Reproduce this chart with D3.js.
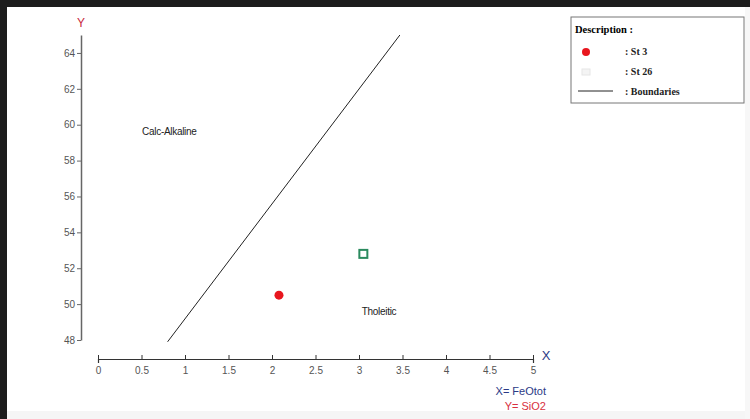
<!DOCTYPE html>
<html>
<head>
<meta charset="utf-8">
<script src="https://cdn.jsdelivr.net/npm/d3@7"></script>
<style>
  body { margin: 0; background: #fff; }
  svg text { font-family: "Liberation Sans", Arial, sans-serif; }
</style>
</head>
<body>
<div id="graph"></div>
<script>
// samples (FeOtot, SiO2)
var st3 = [[2.08, 50.5]];
var st26 = [[3.05, 52.8]];
// Miyashiro boundary
var boundary = [[0.8, 47.9], [3.47, 65]];
var xTicks = [0, 0.5, 1, 1.5, 2, 2.5, 3, 3.5, 4, 4.5, 5];
var yTicks = [48, 50, 52, 54, 56, 58, 60, 62, 64];
var fieldLabels = [
  {name: 'Calc-Alkaline', x: 0.82, y: 59.6},
  {name: 'Tholeitic', x: 3.23, y: 49.6}
];

var width = 750, height = 419;

var svg = d3.select('#graph').append('svg')
    .attr('width', width)
    .attr('height', height);

// screenshot frame
svg.append('rect').attr('x', 0).attr('y', 0).attr('width', width).attr('height', height).attr('fill', '#fff');
svg.append('rect').attr('x', 0).attr('y', 411).attr('width', width).attr('height', 8).attr('fill', '#f5f5f5');
svg.append('rect').attr('x', 745).attr('y', 0).attr('width', 5).attr('height', height).attr('fill', '#f7f7f7');
svg.append('rect').attr('x', 0).attr('y', 0).attr('width', width).attr('height', 7).attr('fill', '#1c1c1c');
svg.append('rect').attr('x', 0).attr('y', 0).attr('width', 7).attr('height', height).attr('fill', '#1c1c1c');

var x = d3.scaleLinear().domain([0, 5]).range([98, 533]);
var y = d3.scaleLinear().domain([48, 65]).range([340, 35]);

// y axis
var yAxis = svg.append('g')
    .attr('transform', 'translate(81,0)')
    .call(d3.axisLeft(y).tickValues(yTicks).tickSizeInner(4).tickSizeOuter(0).tickPadding(2));
yAxis.select('.domain').attr('stroke', '#666').attr('stroke-width', 1.5);
yAxis.selectAll('.tick line').attr('stroke', '#666');
yAxis.selectAll('.tick text').attr('fill', '#555').style('font-size', '10px');

// x axis
var xAxis = svg.append('g')
    .attr('transform', 'translate(0,359)')
    .call(d3.axisBottom(x).tickValues(xTicks).tickFormat(d3.format('~g'))
      .tickSizeInner(-4).tickSizeOuter(4).tickPadding(8));
xAxis.select('.domain').attr('stroke', '#333').attr('stroke-width', 1.2);
xAxis.selectAll('.tick line').attr('stroke', '#333');
xAxis.selectAll('.tick text').attr('fill', '#555').style('font-size', '10px');

svg.append('text').attr('x', 81).attr('y', 27).attr('text-anchor', 'middle')
    .attr('fill', '#c8283c').style('font-size', '12px').text('Y');
svg.append('text').attr('x', 546).attr('y', 360).attr('text-anchor', 'middle')
    .attr('fill', '#2b3a86').style('font-size', '13px').text('X');
svg.append('text').attr('x', 546).attr('y', 395).attr('text-anchor', 'end')
    .attr('fill', '#2b3a86').style('font-size', '11px').text('X= FeOtot');
svg.append('text').attr('x', 546).attr('y', 410).attr('text-anchor', 'end')
    .attr('fill', '#d83040').style('font-size', '11px').text('Y= SiO2');

// boundary
svg.append('path')
    .datum(boundary)
    .attr('fill', 'none')
    .attr('stroke', '#222')
    .attr('stroke-width', 1)
    .attr('d', d3.line().x(function(d) { return x(d[0]); }).y(function(d) { return y(d[1]); }));

svg.selectAll('.field')
    .data(fieldLabels)
  .enter().append('text')
    .attr('class', 'field')
    .attr('x', function(d) { return x(d.x); })
    .attr('y', function(d) { return y(d.y); })
    .attr('text-anchor', 'middle')
    .attr('dy', '.35em')
    .attr('fill', '#222')
    .style('font-size', '10px')
    .style('letter-spacing', '-0.3px')
    .text(function(d) { return d.name; });

svg.selectAll('.st3')
    .data(st3)
  .enter().append('circle')
    .attr('class', 'st3')
    .attr('cx', function(d) { return x(d[0]); })
    .attr('cy', function(d) { return y(d[1]); })
    .attr('r', 4.5)
    .attr('fill', '#e8161e');

svg.selectAll('.st26')
    .data(st26)
  .enter().append('rect')
    .attr('class', 'st26')
    .attr('x', function(d) { return x(d[0]) - 4; })
    .attr('y', function(d) { return y(d[1]) - 4; })
    .attr('width', 8)
    .attr('height', 8)
    .attr('fill', '#fff')
    .attr('stroke', '#2a8a5e')
    .attr('stroke-width', 2);

// legend
var lg = svg.append('g').attr('transform', 'translate(571,17)');
lg.append('rect').attr('width', 173).attr('height', 86)
    .attr('fill', '#fff').attr('stroke', '#777').attr('stroke-width', 1);
lg.append('text').attr('x', 4).attr('y', 16)
    .style('font-family', '"Liberation Serif", "Times New Roman", serif')
    .style('font-size', '10.5px').style('font-weight', 'bold').text('Description :');
lg.append('circle').attr('cx', 15).attr('cy', 35).attr('r', 4).attr('fill', '#e8161e');
lg.append('rect').attr('x', 11).attr('y', 52).attr('width', 8).attr('height', 6)
    .attr('fill', '#f4f4f4').attr('stroke', '#e6e6e6');
lg.append('line').attr('x1', 7).attr('x2', 42).attr('y1', 74).attr('y2', 74)
    .attr('stroke', '#222');
var legendText = [': St 3', ': St 26', ': Boundaries'];
lg.selectAll('.lt')
    .data(legendText)
  .enter().append('text')
    .attr('class', 'lt')
    .attr('x', 54)
    .attr('y', function(d, i) { return 38 + i * 20; })
    .style('font-family', '"Liberation Serif", "Times New Roman", serif')
    .style('font-size', '10px')
    .style('font-weight', 'bold')
    .attr('fill', '#222')
    .text(function(d) { return d; });
</script>
</body>
</html>
